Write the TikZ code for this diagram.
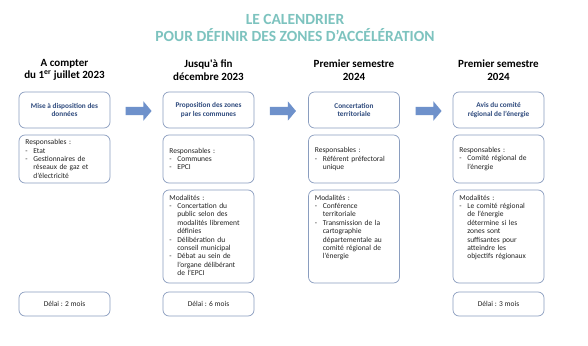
\documentclass[tikz,border=0pt]{standalone}
\usepackage{fontspec}
\setmainfont{Carlito}
\usetikzlibrary{shapes.arrows}
\definecolor{titleteal}{HTML}{7DC3BF}
\definecolor{boxline}{HTML}{8A9DBF}
\definecolor{navytxt}{HTML}{2E4A7D}
\definecolor{bodytxt}{HTML}{222222}
\definecolor{arrowblue}{HTML}{6E91CB}
\newcommand\itm[1]{\par\noindent\makebox[8pt][l]{-}#1}
\newcommand\cnt[1]{\par\noindent\hspace*{8pt}#1}
\tikzset{
  box/.style={draw=boxline, line width=0.7pt, rounded corners=6pt, minimum width=91pt, inner sep=0pt},
  txt/.style={font=\fontsize{7.5}{8.4}\selectfont, text=bodytxt, text width=82pt, align=left, inner sep=0pt},
  toptxt/.style={font=\bfseries\fontsize{7.3}{8.4}\selectfont, text=navytxt, align=center, inner sep=0pt},
  delaitxt/.style={font=\fontsize{7.5}{8.4}\selectfont, text=bodytxt, inner sep=0pt},
  hdr/.style={font=\bfseries\fontsize{11}{12.5}\selectfont, align=center, inner sep=0pt},
  arr/.style={single arrow, fill=arrowblue, draw=none, minimum height=26pt, minimum width=19pt,
    single arrow head extend=5.5pt, single arrow tip angle=100, inner sep=4pt, shape border rotate=0}
}
\begin{document}
\begin{tikzpicture}[x=1pt,y=-1pt]
\useasboundingbox (0,0) rectangle (588,345);
\fill[white] (0,0) rectangle (588,345);
% title
\node[font=\bfseries\fontsize{15.5}{17}\selectfont, text=titleteal, align=center, inner sep=0pt] (title) at (295,28)
  {LE CALENDRIER\\POUR DÉFINIR DES ZONES D’ACCÉLÉRATION};
% headers
\node[hdr] (h1) at (64.5,70) {A compter\\du 1\textsuperscript{er} juillet 2023};
\node[hdr] (h2) at (208.5,70) {Jusqu\textquotesingle à fin\\décembre 2023};
\node[hdr] (h3) at (354,70) {Premier semestre\\2024};
\node[hdr] (h4) at (498.5,70) {Premier semestre\\2024};
% top boxes
\node[box, minimum height=36pt] (t1) at (64.5,110) {};
\node[box, minimum height=36pt] (t2) at (208.5,110) {};
\node[box, minimum height=36pt] (t3) at (354,110) {};
\node[box, minimum height=36pt] (t4) at (498.5,110) {};
\node[toptxt] (t1t) at (t1.center) {Mise à disposition des\\données};
\node[toptxt] (t2t) at (t2.center) {Proposition des zones\\par les communes};
\node[toptxt] (t3t) at (t3.center) {Concertation\\territoriale};
\node[toptxt] (t4t) at (t4.center) {Avis du comité\\régional de l’énergie};
% arrows
\node[arr] (a1) at (136.8,111) {};
\node[arr] (a2) at (281.2,111) {};
\node[arr] (a3) at (426.8,111) {};
% responsables
\node[box, minimum height=48pt] (r1) at (64.5,159) {};
\node[box, minimum height=48pt] (r2) at (208.5,159) {};
\node[box, minimum height=48pt] (r3) at (354,159) {};
\node[box, minimum height=48pt] (r4) at (498.5,159) {};
\node[txt, anchor=west] (r1t) at ([xshift=6.5pt]r1.west) {Responsables :\itm{Etat}\itm{Gestionnaires de}\cnt{réseaux de gaz et}\cnt{d’électricité}};
\node[txt, anchor=west] (r2t) at ([xshift=6.5pt]r2.west) {Responsables :\itm{Communes}\itm{EPCI}};
\node[txt, anchor=west] (r3t) at ([xshift=6.5pt]r3.west) {Responsables :\itm{Référent préfectoral}\cnt{unique}};
\node[txt, anchor=west] (r4t) at ([xshift=6.5pt]r4.west) {Responsables :\itm{Comité régional de}\cnt{l’énergie}};
% modalites
\node[box, minimum height=93pt] (m2) at (208.5,236.5) {};
\node[box, minimum height=93pt] (m3) at (354,236.5) {};
\node[box, minimum height=93pt] (m4) at (498.5,236.5) {};
\node[txt, anchor=north west] (m2t) at ([xshift=6.5pt,yshift=-5pt]m2.north west) {Modalités :\itm{Concertation du}\cnt{public selon des}\cnt{modalités librement}\cnt{définies}\itm{Délibération du}\cnt{conseil municipal}\itm{Débat au sein de}\cnt{l’organe délibérant}\cnt{de l’EPCI}};
\node[txt, anchor=north west] (m3t) at ([xshift=6.5pt,yshift=-5pt]m3.north west) {Modalités :\itm{Conférence}\cnt{territoriale}\itm{Transmission de la}\cnt{cartographie}\cnt{départementale au}\cnt{comité régional de}\cnt{l’énergie}};
\node[txt, anchor=north west] (m4t) at ([xshift=6.5pt,yshift=-5pt]m4.north west) {Modalités :\itm{Le comité régional}\cnt{de l’énergie}\cnt{détermine si les}\cnt{zones sont}\cnt{suffisantes pour}\cnt{atteindre les}\cnt{objectifs régionaux}};
% delai
\node[box, minimum height=24pt] (d1) at (64.5,304) {};
\node[box, minimum height=24pt] (d2) at (208.5,304) {};
\node[box, minimum height=24pt] (d4) at (498.5,304) {};
\node[delaitxt] (d1t) at (d1.center) {Délai : 2 mois};
\node[delaitxt] (d2t) at (d2.center) {Délai : 6 mois};
\node[delaitxt] (d4t) at (d4.center) {Délai : 3 mois};
\end{tikzpicture}
\end{document}
